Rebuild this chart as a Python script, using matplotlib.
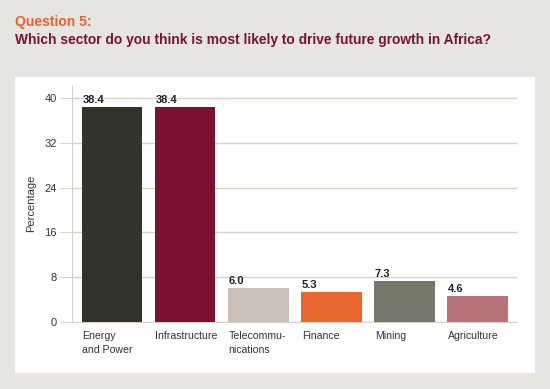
import matplotlib
matplotlib.use("Agg")
import matplotlib.pyplot as plt
import matplotlib.transforms as mtransforms

categories = ["Energy\nand Power", "Infrastructure", "Telecommu-\nnications", "Finance", "Mining", "Agriculture"]
values = [38.4, 38.4, 6.0, 5.3, 7.3, 4.6]
colors = ["#33332a", "#7a1230", "#c9c1b7", "#e8672f", "#77786a", "#b8737a"]
yticks = [0, 8, 16, 24, 32, 40]

plt.rcParams['font.family'] = ['Liberation Sans', 'DejaVu Sans']

fig = plt.figure(figsize=(5.5, 3.89), dpi=100)
fig.patch.set_facecolor("#e6e5e1")
W, H = 550, 389
bg = fig.add_axes([15 / W, 1 - 373 / H, (535 - 15) / W, (373 - 77) / H], zorder=0)
bg.set_facecolor("white")
bg.set_xticks([]); bg.set_yticks([])
for s in bg.spines.values():
    s.set_visible(False)

fig.text(15 / W, 1 - 22 / H, "Question 5:", color="#e8612c", fontsize=10, fontweight="bold", va="center", ha="left")
fig.text(15 / W, 1 - 40 / H, "Which sector do you think is most likely to drive future growth in Africa?",
         color="#7a1230", fontsize=9.9, fontweight="bold", va="center", ha="left")

ax = fig.add_axes([72 / W, 1 - 322 / H, (517 - 72) / W, (322 - 85) / H], zorder=1)
ax.set_facecolor("none")
x = list(range(len(values)))
bw = 0.83
ax.bar(x, values, width=bw, color=colors, zorder=3)
for xi, v in zip(x, values):
    ax.text(xi - bw / 2 + 0.01, v + 0.4, f"{v:.1f}", ha="left", va="bottom", fontsize=8, fontweight="bold", color="#222222")

label_tr = mtransforms.blended_transform_factory(ax.transData, ax.transAxes) + \
    mtransforms.ScaledTranslation(0, -9 / 100, fig.dpi_scale_trans)
for xi, c in zip(x, categories):
    ax.text(xi - bw / 2 + 0.01, 0, c, transform=label_tr, ha="left", va="top",
            fontsize=7.6, color="#333333", linespacing=1.45)

ax.set_xlim(-0.547, 5.54)
ax.set_ylim(0, 42.3)
ax.set_yticks(yticks)
ax.set_yticklabels([str(t) for t in yticks], fontsize=8, color="#333333")
ax.yaxis.grid(True, color="#d6d1c9", linewidth=1, zorder=0)
ax.tick_params(axis="y", length=9, color="#d6d1c9", pad=2)
ax.set_xticks([])
ax.set_ylabel("Percentage", fontsize=8, color="#333333", labelpad=6)
for s in ["top", "right"]:
    ax.spines[s].set_visible(False)
ax.spines["left"].set_color("#d6d1c9")
ax.spines["bottom"].set_color("#d6d1c9")

fig.savefig("out.png", dpi=100, facecolor=fig.get_facecolor())
